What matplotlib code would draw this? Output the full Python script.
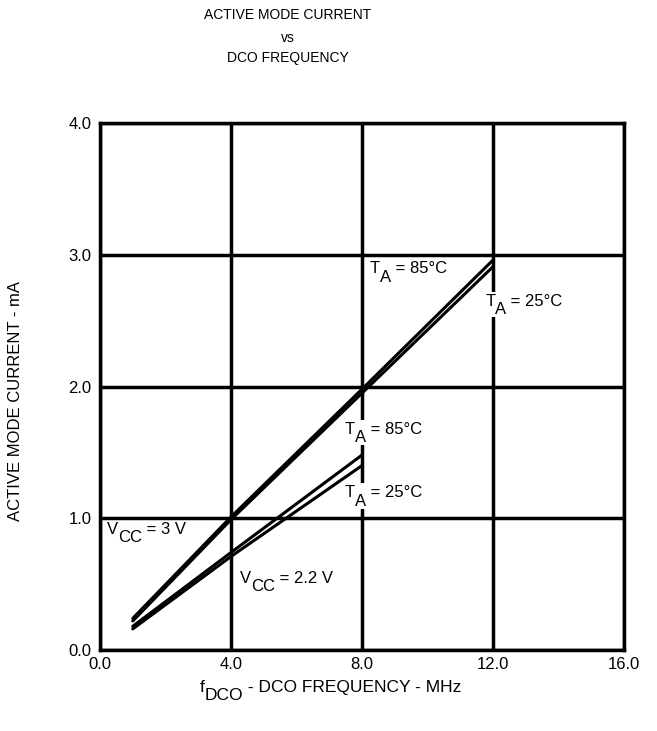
import matplotlib.pyplot as plt
from matplotlib.transforms import offset_copy, Bbox
from matplotlib.patches import Rectangle

plt.rcParams['font.family'] = ['Liberation Sans', 'DejaVu Sans']

# data
freq_3v = [1.0, 4.0, 8.0, 12.0]
i_3v_85 = [0.24, 1.01, 1.98, 2.96]
i_3v_25 = [0.22, 0.99, 1.95, 2.91]

freq_22v = [1.0, 4.0, 8.0]
i_22v_85 = [0.18, 0.74, 1.48]
i_22v_25 = [0.16, 0.71, 1.40]

x_ticks = [0.0, 4.0, 8.0, 12.0, 16.0]
y_ticks = [0.0, 1.0, 2.0, 3.0, 4.0]

FS = 12

fig = plt.figure(figsize=(6.57, 7.31), dpi=100)
ax = fig.add_axes([0.1522, 0.1108, 0.7976, 0.7209])

ax.set_xlim(0, 16)
ax.set_ylim(0, 4)
ax.set_xticks(x_ticks)
ax.set_yticks(y_ticks)
ax.set_xticklabels([f"{v:.1f}" for v in x_ticks])
ax.set_yticklabels([f"{v:.1f}" for v in y_ticks])
ax.tick_params(length=0, labelsize=FS)
ax.tick_params(axis='x', pad=5)
ax.tick_params(axis='y', pad=6)
for s in ax.spines.values():
    s.set_linewidth(2.5)
ax.grid(True, color='black', linewidth=2.5)
ax.set_axisbelow(True)

# curves
for f, i in [(freq_3v, i_3v_85), (freq_3v, i_3v_25),
             (freq_22v, i_22v_85), (freq_22v, i_22v_25)]:
    ax.plot(f, i, color='black', linewidth=2.2, solid_capstyle='round', zorder=4)

renderer = fig.canvas.get_renderer()
px = fig.dpi / 72


def sub_label(x, y, main, sub, rest, on_fig=False, size=FS, drop=6, bg=True, top_pad=2):
    """main text, full size subscript dropped below, then the rest"""
    trans = fig.transFigure if on_fig else ax.transData
    put = fig.text if on_fig else ax.text
    kw = dict(fontsize=size, va='baseline', ha='left', zorder=3)
    texts = [put(x, y, main, transform=trans, **kw)]
    dx = texts[0].get_window_extent(renderer).width
    tr = offset_copy(trans, fig=fig, x=dx, y=-drop * px, units='dots')
    texts.append(put(x, y, sub, transform=tr, **kw))
    dx += texts[1].get_window_extent(renderer).width
    tr = offset_copy(trans, fig=fig, x=dx, units='dots')
    texts.append(put(x, y, rest, transform=tr, **kw))
    if bg:
        # white box from cap height of the main text down to the subscript baseline
        bb = Bbox.union([t.get_window_extent(renderer) for t in texts])
        base = trans.transform((x, y))[1]
        top = base + 0.72 * size * px + top_pad
        bot = base - drop * px - 3
        (x0, y0), (x1, y1) = ax.transData.inverted().transform(
            [[bb.x0 - 2, bot], [bb.x1 + 2, top]])
        ax.add_patch(Rectangle((x0, y0), x1 - x0, y1 - y0, facecolor='white',
                               edgecolor='none', zorder=2))


# labels (white boxes break the grid lines like in the datasheet)
sub_label(0.21, 0.88, 'V', 'CC', ' = 3 V', top_pad=0)
sub_label(4.27, 0.51, 'V', 'CC', ' = 2.2 V    ')
sub_label(8.24, 2.86, 'T', 'A', ' = 85°C')
sub_label(11.76, 2.61, 'T', 'A', ' = 25°C')
sub_label(7.48, 1.64, 'T', 'A', ' = 85°C')
sub_label(7.48, 1.16, 'T', 'A', ' = 25°C')

fig.text(0.438, 0.979, 'ACTIVE MODE CURRENT', ha='center', va='center', fontsize=10)
fig.text(0.438, 0.948, 'vs', ha='center', va='center', fontsize=10)
fig.text(0.438, 0.920, 'DCO FREQUENCY', ha='center', va='center', fontsize=10)

sub_label(200 / 657, 1 - 692 / 731, 'f', 'DCO', ' - DCO FREQUENCY - MHz',
          on_fig=True, size=12.5, bg=False)
fig.text(0.023, 0.452, 'ACTIVE MODE CURRENT - mA', rotation=90,
         ha='center', va='center', fontsize=FS)

fig.savefig('out.png', dpi=100)
